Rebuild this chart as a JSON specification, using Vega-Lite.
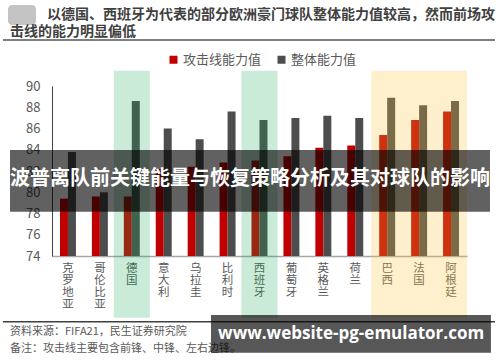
{
  "$schema": "https://vega.github.io/schema/vega-lite/v6.json",
  "width": 415,
  "height": 170,
  "autosize": {"type": "none"},
  "padding": {"left": 52, "top": 86, "right": 33, "bottom": 106},
  "background": "white",
  "datasets": {
    "scores": [
      {"team": "克罗地亚", "series": "攻击线能力值", "value": 79.4},
      {"team": "克罗地亚", "series": "整体能力值", "value": 83.8},
      {"team": "哥伦比亚", "series": "攻击线能力值", "value": 79.6},
      {"team": "哥伦比亚", "series": "整体能力值", "value": 80.0},
      {"team": "德国", "series": "攻击线能力值", "value": 79.6},
      {"team": "德国", "series": "整体能力值", "value": 88.6},
      {"team": "意大利", "series": "攻击线能力值", "value": 82.2},
      {"team": "意大利", "series": "整体能力值", "value": 86.0},
      {"team": "乌拉圭", "series": "攻击线能力值", "value": 82.4},
      {"team": "乌拉圭", "series": "整体能力值", "value": 85.0},
      {"team": "比利时", "series": "攻击线能力值", "value": 82.8},
      {"team": "比利时", "series": "整体能力值", "value": 87.6},
      {"team": "西班牙", "series": "攻击线能力值", "value": 83.0},
      {"team": "西班牙", "series": "整体能力值", "value": 86.8},
      {"team": "葡萄牙", "series": "攻击线能力值", "value": 83.4},
      {"team": "葡萄牙", "series": "整体能力值", "value": 87.0},
      {"team": "英格兰", "series": "攻击线能力值", "value": 84.2},
      {"team": "英格兰", "series": "整体能力值", "value": 87.2},
      {"team": "荷兰", "series": "攻击线能力值", "value": 84.4},
      {"team": "荷兰", "series": "整体能力值", "value": 87.0},
      {"team": "巴西", "series": "攻击线能力值", "value": 85.4},
      {"team": "巴西", "series": "整体能力值", "value": 88.9},
      {"team": "法国", "series": "攻击线能力值", "value": 86.8},
      {"team": "法国", "series": "整体能力值", "value": 88.2},
      {"team": "阿根廷", "series": "攻击线能力值", "value": 87.6},
      {"team": "阿根廷", "series": "整体能力值", "value": 88.6}
    ],
    "highlights": [
      {"team": "德国", "group": "green"},
      {"team": "西班牙", "group": "green"},
      {"team": "巴西", "group": "yellow"},
      {"team": "法国", "group": "yellow"},
      {"team": "阿根廷", "group": "yellow"}
    ]
  },
  "resolve": {"scale": {"x": "independent"}, "axis": {"y": "independent"}},
  "layer": [
    {
      "layer": [
        {
          "data": {"name": "scores"},
          "mark": {"type": "bar"},
          "encoding": {
            "x": {
              "field": "team",
              "type": "nominal",
              "sort": null,
              "scale": {
                "domain": ["克罗地亚", "哥伦比亚", "德国", "意大利", "乌拉圭", "比利时", "西班牙", "葡萄牙", "英格兰", "荷兰", "巴西", "法国", "阿根廷"],
                "paddingInner": 0,
                "paddingOuter": 0
              },
              "axis": {
                "title": null,
                "labelAngle": 0,
                "labelExpr": "split(datum.label, '')",
                "labelFontSize": 11.5,
                "labelLineHeight": 12,
                "labelPadding": 6,
                "labelBaseline": "top",
                "labelColor": "#595959",
                "labelOverlap": false,
                "ticks": false,
                "domainColor": "#a6a6a6",
                "domainWidth": 1.5
              }
            },
            "xOffset": {
              "field": "series",
              "type": "nominal",
              "sort": ["攻击线能力值", "整体能力值"],
              "scale": {"paddingInner": 0, "paddingOuter": 1.13}
            },
            "y": {
              "field": "value",
              "type": "quantitative",
              "scale": {"domain": [74, 90], "nice": false, "zero": false},
              "axis": {
                "title": null,
                "tickCount": 9,
                "grid": false,
                "ticks": false,
                "labelOverlap": false,
                "labelBound": false,
                "labelFlush": false,
                "labelSeparation": 0,
                "labelFontSize": 13,
                "labelColor": "#595959",
                "labelPadding": 12,
                "domainColor": "#404040"
              }
            },
            "y2": {"datum": 74},
            "color": {
              "field": "series",
              "type": "nominal",
              "scale": {"domain": ["攻击线能力值", "整体能力值"], "range": ["#C00000", "#4D4D4D"]},
              "legend": {
                "title": null,
                "orient": "none",
                "direction": "horizontal",
                "legendX": 115,
                "legendY": -33,
                "symbolType": "square",
                "symbolSize": 64,
                "symbolStrokeWidth": 0,
                "labelFontSize": 13,
                "labelColor": "#595959",
                "labelOffset": 3,
                "columnPadding": 13
              }
            }
          }
        },
        {
          "data": {"name": "highlights"},
          "transform": [{"filter": "datum.group === 'green'"}],
          "mark": {"type": "bar", "width": {"band": 1.13}, "color": "#14A850", "opacity": 0.23, "clip": false},
          "encoding": {
            "x": {"field": "team", "type": "nominal"},
            "y": {"datum": 91.44},
            "y2": {"datum": 68.19}
          }
        },
        {
          "data": {"name": "highlights"},
          "transform": [{"filter": "datum.group === 'yellow'"}],
          "mark": {"type": "bar", "width": {"band": 1}, "color": "#FFC43B", "opacity": 0.255, "clip": false},
          "encoding": {
            "x": {"field": "team", "type": "nominal"},
            "y": {"datum": 91.44},
            "y2": {"datum": 68.19}
          }
        }
      ]
    },
    {
      "data": {"values": [{}]},
      "mark": {"type": "rect", "color": "#c4c4c4", "cornerRadius": 4},
      "encoding": {
        "x": {"datum": -1.378, "type": "quantitative", "scale": {"domain": [0, 13], "nice": false, "zero": false}, "axis": null},
        "x2": {"datum": -0.501},
        "y": {"datum": 97.62, "axis": null},
        "y2": {"datum": 95.74}
      }
    },
    {
      "data": {"values": [{"t": "以德国、西班牙为代表的部分欧洲豪门球队整体能力值较高，然而前场攻"}]},
      "mark": {"type": "text", "align": "left", "baseline": "middle", "fontSize": 14, "fontWeight": "bold", "color": "#404040"},
      "encoding": {
        "x": {"datum": -0.157, "type": "quantitative", "scale": {"domain": [0, 13], "nice": false, "zero": false}, "axis": null},
        "y": {"datum": 96.68, "axis": null},
        "text": {"field": "t"}
      }
    },
    {
      "data": {"values": [{"t": "击线的能力明显偏低"}]},
      "mark": {"type": "text", "align": "left", "baseline": "middle", "fontSize": 14, "fontWeight": "bold", "color": "#404040"},
      "encoding": {
        "x": {"datum": -1.316, "type": "quantitative", "scale": {"domain": [0, 13], "nice": false, "zero": false}, "axis": null},
        "y": {"datum": 95.04, "axis": null},
        "text": {"field": "t"}
      }
    },
    {
      "data": {"values": [{}]},
      "mark": {"type": "rule", "color": "#808080", "strokeWidth": 2},
      "encoding": {
        "x": {"datum": -1.535, "type": "quantitative", "scale": {"domain": [0, 13], "nice": false, "zero": false}, "axis": null},
        "x2": {"datum": 13.877},
        "y": {"datum": 94.33, "axis": null}
      }
    },
    {
      "data": {"values": [{}]},
      "mark": {"type": "rule", "color": "#404040", "strokeWidth": 1.5},
      "encoding": {
        "x": {"datum": -1.535, "type": "quantitative", "scale": {"domain": [0, 13], "nice": false, "zero": false}, "axis": null},
        "x2": {"datum": 13.877},
        "y": {"datum": 67.82, "axis": null}
      }
    },
    {
      "data": {"values": [{"note": "资料来源：FIFA21，民生证券研究院"}]},
      "mark": {"type": "text", "align": "left", "baseline": "middle", "fontSize": 11, "color": "#595959"},
      "encoding": {
        "x": {"datum": -1.316, "type": "quantitative", "scale": {"domain": [0, 13], "nice": false, "zero": false}, "axis": null},
        "y": {"datum": 66.85, "axis": null},
        "text": {"field": "note"}
      }
    },
    {
      "data": {"values": [{"note": "备注：攻击线主要包含前锋、中锋、左右边锋。"}]},
      "mark": {"type": "text", "align": "left", "baseline": "middle", "fontSize": 11, "color": "#595959"},
      "encoding": {
        "x": {"datum": -1.316, "type": "quantitative", "scale": {"domain": [0, 13], "nice": false, "zero": false}, "axis": null},
        "y": {"datum": 65.25, "axis": null},
        "text": {"field": "note"}
      }
    },
    {
      "data": {"values": [{}]},
      "mark": {"type": "rect", "color": "#000000", "opacity": 0.62},
      "encoding": {
        "x": {"datum": -1.316, "type": "quantitative", "scale": {"domain": [0, 13], "nice": false, "zero": false}, "axis": null},
        "x2": {"datum": 13.72},
        "y": {"datum": 83.98, "axis": null},
        "y2": {"datum": 78.17}
      }
    },
    {
      "data": {"values": [{"banner": "波普离队前关键能量与恢复策略分析及其对球队的影响"}]},
      "mark": {"type": "text", "align": "center", "baseline": "middle", "fontSize": 20, "fontWeight": "bold", "color": "#ffffff"},
      "encoding": {
        "x": {"datum": 6.2, "type": "quantitative", "scale": {"domain": [0, 13], "nice": false, "zero": false}, "axis": null},
        "y": {"datum": 81.25, "axis": null},
        "text": {"field": "banner"}
      }
    },
    {
      "data": {"values": [{}]},
      "mark": {"type": "rect", "color": "#000000", "opacity": 0.66},
      "encoding": {
        "x": {"datum": 4.98, "type": "quantitative", "scale": {"domain": [0, 13], "nice": false, "zero": false}, "axis": null},
        "x2": {"datum": 13.75},
        "y": {"datum": 68.45, "axis": null},
        "y2": {"datum": 64.9}
      }
    },
    {
      "data": {"values": [{"mark": "www.website-pg-emulator.com"}]},
      "mark": {"type": "text", "align": "center", "baseline": "middle", "fontSize": 17, "fontWeight": "bold", "font": "Open Sans", "color": "#ffffff"},
      "encoding": {
        "x": {"datum": 9.37, "type": "quantitative", "scale": {"domain": [0, 13], "nice": false, "zero": false}, "axis": null},
        "y": {"datum": 66.66, "axis": null},
        "text": {"field": "mark"}
      }
    }
  ],
  "config": {
    "font": "Noto Sans CJK SC",
    "view": {"stroke": null}
  }
}
